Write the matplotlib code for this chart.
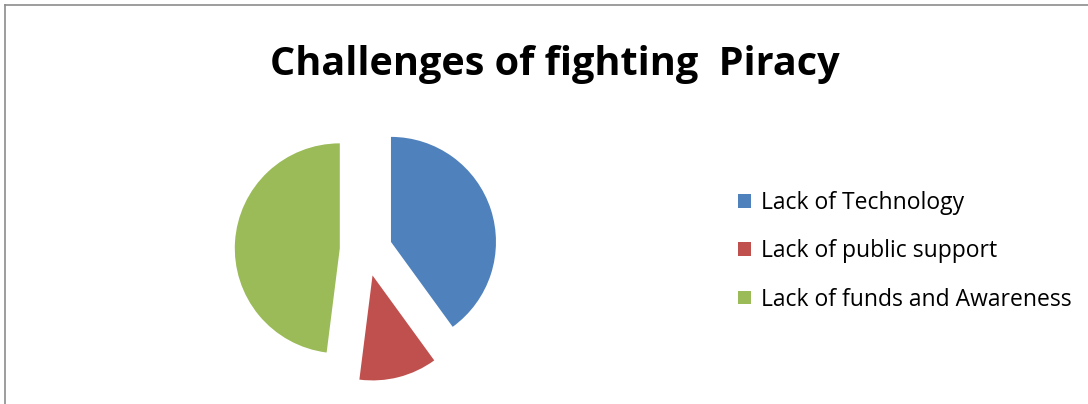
import matplotlib
matplotlib.use("Agg")
import matplotlib.pyplot as plt
from matplotlib.lines import Line2D
from matplotlib.patches import Patch

title = "Challenges of fighting  Piracy"
categories = ["Lack of Technology", "Lack of public support", "Lack of funds and Awareness"]
values = [40, 12, 48]
colors = ["#4F81BD", "#C0504D", "#9BBB59"]
explode = [0.25, 0.25, 0.25]

W, H = 1088, 404
fig = plt.figure(figsize=(W / 100, H / 100), dpi=100)
fig.patch.set_facecolor("white")

# pie axes: center (366,250) px from top-left, radius ~105 px
cx, cy, r = 366, 250, 105
half = 150
ax = fig.add_axes([(cx - half) / W, (H - cy - half) / H, 2 * half / W, 2 * half / H])
ax.pie(values, colors=colors, explode=explode, startangle=90, counterclock=False,
       radius=1.0, wedgeprops=dict(linewidth=0))
lim = half / r
ax.set_xlim(-lim, lim)
ax.set_ylim(-lim, lim)
ax.set_aspect("equal")
ax.axis("off")

fig.text(555 / W, 1 - 65 / H, title, ha="center", va="center",
         fontsize=28.5, fontweight="bold", family="Open Sans")

handles = [Patch(facecolor=c, edgecolor="none") for c in colors]
leg = fig.legend(handles, categories, loc="upper left",
                 bbox_to_anchor=(738 / W, 1 - 191 / H), frameon=False,
                 prop=dict(family="Open Sans", size=16.5),
                 handlelength=0.55, handleheight=0.55, handletextpad=0.44,
                 labelspacing=1.06, borderaxespad=0, borderpad=0)

# border lines (top and left)
fig.add_artist(Line2D([5 / W, 1], [1 - 5 / H, 1 - 5 / H], color="#8c8c8c", lw=1.2,
                      transform=fig.transFigure))
fig.add_artist(Line2D([5 / W, 5 / W], [0, 1 - 5 / H], color="#8c8c8c", lw=1.2,
                      transform=fig.transFigure))

fig.savefig("out.png", dpi=100)
